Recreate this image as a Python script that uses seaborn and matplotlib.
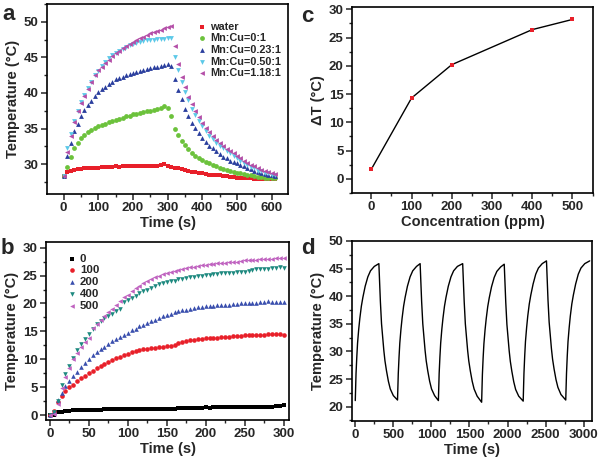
import numpy as np
import pandas as pd
import matplotlib
matplotlib.use("Agg")
import matplotlib.pyplot as plt
from matplotlib.ticker import MultipleLocator
import seaborn as sns

# ---- panel a: heating / cooling curves, sampled every 10 s
time_a = np.arange(0, 620, 10)
water = [28.3, 28.9, 29.1, 29.2, 29.3, 29.3, 29.4, 29.4, 29.5, 29.5, 29.5, 29.6, 29.6, 29.6, 29.6, 29.7,
         29.6, 29.7, 29.7, 29.7, 29.7, 29.8, 29.8, 29.7, 29.8, 29.8, 29.8, 29.8, 29.9, 30.0, 29.8, 29.6,
         29.5, 29.4, 29.3, 29.2, 29.0, 28.9, 28.9, 28.8, 28.7, 28.6, 28.5, 28.5, 28.4, 28.4, 28.3, 28.3,
         28.2, 28.2, 28.1, 28.1, 28.0, 28.0, 28.0, 27.9, 27.9, 27.9, 27.9, 27.9, 27.9, 27.9]
mn_0 = [28.3, 29.6, 31.0, 32.2, 33.0, 33.6, 34.1, 34.5, 34.8, 35.1, 35.3, 35.5, 35.7, 35.9, 36.1, 36.2,
        36.4, 36.5, 36.7, 36.8, 37.0, 37.1, 37.2, 37.3, 37.4, 37.5, 37.6, 37.8, 37.9, 38.1, 37.9, 36.7,
        35.0, 34.1, 33.3, 32.7, 32.1, 31.6, 31.2, 30.9, 30.6, 30.3, 30.1, 29.9, 29.7, 29.5, 29.3, 29.2,
        29.0, 28.9, 28.8, 28.7, 28.6, 28.5, 28.4, 28.3, 28.2, 28.2, 28.1, 28.1, 28.0, 28.0]
mn_023 = [28.3, 31.1, 33.0, 34.6, 35.7, 36.7, 37.6, 38.3, 38.9, 39.6, 40.1, 40.6, 40.9, 41.3, 41.6, 41.9,
          42.1, 42.3, 42.5, 42.7, 42.8, 43.0, 43.1, 43.2, 43.4, 43.5, 43.6, 43.7, 43.8, 43.9, 44.0, 43.8,
          41.9, 40.4, 39.1, 37.8, 36.8, 35.8, 35.1, 34.4, 33.7, 33.1, 32.6, 32.2, 31.8, 31.4, 31.0, 30.8,
          30.5, 30.3, 30.1, 29.9, 29.7, 29.5, 29.3, 29.1, 28.9, 28.8, 28.6, 28.5, 28.4, 28.3]
mn_050 = [28.3, 32.2, 34.3, 36.0, 37.5, 38.7, 39.7, 40.7, 41.6, 42.5, 43.1, 43.8, 44.4, 44.9, 45.3, 45.6,
          45.9, 46.2, 46.5, 46.7, 46.9, 47.0, 47.2, 47.3, 47.4, 47.4, 47.5, 47.6, 47.6, 47.6, 47.7, 47.7,
          45.1, 43.2, 41.5, 40.2, 39.0, 37.7, 36.9, 36.0, 35.3, 34.7, 34.0, 33.5, 33.0, 32.6, 32.2, 31.8,
          31.5, 31.1, 30.8, 30.5, 30.2, 29.9, 29.6, 29.4, 29.1, 29.0, 28.8, 28.7, 28.5, 28.4]
mn_118 = [28.3, 31.7, 34.0, 35.9, 37.4, 38.6, 39.6, 40.6, 41.6, 42.5, 43.2, 43.7, 44.2, 44.7, 45.2, 45.6,
          45.9, 46.3, 46.6, 46.9, 47.2, 47.4, 47.7, 47.9, 48.1, 48.4, 48.6, 48.7, 48.9, 49.1, 49.3, 49.4,
          46.6, 44.0, 42.3, 40.8, 39.5, 38.4, 37.4, 36.6, 35.8, 35.1, 34.5, 33.9, 33.4, 33.0, 32.5, 32.1,
          31.8, 31.5, 31.1, 30.8, 30.5, 30.2, 29.9, 29.7, 29.4, 29.2, 29.1, 28.9, 28.7, 28.6]
labels_a = ["water", "Mn:Cu=0:1", "Mn:Cu=0.23:1", "Mn:Cu=0.50:1", "Mn:Cu=1.18:1"]

# ---- panel b: concentration series, sampled every 5 s
time_b = np.arange(0, 305, 5)
c0 = [0.0, 0.1, 0.6, 0.6, 0.7, 0.8, 0.9, 0.9, 1.0, 1.0, 1.0, 0.9, 1.0, 1.0, 1.1, 1.1, 1.1, 1.1, 1.1, 1.1,
      1.1, 1.1, 1.1, 1.2, 1.2, 1.2, 1.2, 1.2, 1.2, 1.2, 1.2, 1.2, 1.2, 1.3, 1.3, 1.3, 1.3, 1.3, 1.3, 1.3,
      1.4, 1.3, 1.4, 1.4, 1.4, 1.5, 1.5, 1.5, 1.5, 1.5, 1.5, 1.5, 1.5, 1.5, 1.4, 1.4, 1.4, 1.4, 1.6, 1.7, 1.8]
c100 = [0.0, 0.8, 2.4, 3.5, 4.3, 5.0, 5.5, 6.1, 6.6, 7.1, 7.6, 8.0, 8.4, 8.8, 9.2, 9.5, 9.8, 10.2, 10.5,
        10.8, 11.0, 11.3, 11.5, 11.7, 11.8, 11.9, 12.0, 12.1, 12.2, 12.3, 12.4, 12.4, 12.5, 13.0, 13.1,
        13.2, 13.4, 13.5, 13.6, 13.7, 13.8, 13.8, 13.9, 13.9, 14.0, 14.0, 14.0, 14.1, 14.2, 14.2, 14.3,
        14.3, 14.3, 14.4, 14.4, 14.4, 14.5, 14.5, 14.5, 14.5, 14.3]
c200 = [0.0, 0.5, 2.8, 4.0, 5.2, 6.2, 7.0, 7.8, 8.6, 9.3, 10.0, 10.7, 11.3, 11.8, 12.3, 12.8, 13.2, 13.6,
        14.0, 14.4, 14.8, 15.2, 15.5, 15.9, 16.2, 16.5, 16.8, 17.1, 17.4, 17.7, 17.9, 18.2, 18.4, 18.6,
        18.8, 18.9, 19.1, 19.2, 19.3, 19.4, 19.5, 19.6, 19.6, 19.7, 19.7, 19.8, 19.8, 19.9, 19.9, 20.0,
        20.0, 20.0, 20.1, 20.1, 20.2, 20.3, 20.4, 20.3, 20.2, 20.2, 20.2]
c400 = [0.0, 0.5, 2.5, 5.5, 7.3, 8.9, 10.3, 11.6, 12.7, 13.7, 14.6, 15.5, 16.3, 16.9, 17.4, 17.8, 18.2,
        18.6, 19.0, 20.2, 20.6, 21.0, 21.4, 21.8, 22.2, 22.5, 22.8, 23.1, 23.4, 23.6, 23.8, 24.0, 24.1,
        24.3, 24.4, 24.6, 24.7, 24.8, 24.9, 25.0, 25.1, 25.1, 25.2, 25.3, 25.4, 25.4, 25.5, 25.5, 25.6,
        25.6, 25.7, 25.8, 26.0, 26.1, 26.1, 26.2, 26.2, 26.3, 26.4, 26.6, 26.4]
c500 = [0.0, 0.3, 2.0, 4.8, 6.9, 8.5, 10.0, 11.2, 12.2, 13.1, 13.9, 15.6, 16.4, 17.1, 17.8, 18.5, 19.1,
        19.8, 20.4, 21.1, 21.6, 22.2, 22.7, 23.2, 23.6, 24.0, 24.4, 24.7, 25.0, 25.2, 25.4, 25.6, 25.8,
        26.0, 26.2, 26.3, 26.5, 26.6, 26.7, 26.8, 26.9, 27.0, 27.1, 27.2, 27.3, 27.3, 27.4, 27.5, 27.5,
        27.6, 27.7, 27.7, 27.8, 27.8, 27.9, 27.9, 28.0, 28.0, 28.1, 28.2, 28.2]
labels_b = ["0", "100", "200", "400", "500"]

# ---- panel c: temperature rise vs concentration
conc = [0, 100, 200, 400, 500]
delta_t = [1.7, 14.3, 20.2, 26.4, 28.2]

# ---- panel d: six on/off cycles
cycle_time = [0, 10, 20, 30, 45, 60, 80, 100, 130, 165, 200, 250, 310,
              320, 330, 345, 360, 375, 390, 410, 435, 460, 500, 555,
              565, 575, 585, 600, 615, 635, 655, 685, 720, 755, 805, 852,
              862, 872, 887, 902, 917, 932, 952, 977, 1002, 1042, 1092,
              1102, 1112, 1122, 1137, 1152, 1172, 1192, 1222, 1257, 1292, 1342, 1411,
              1421, 1431, 1446, 1461, 1476, 1491, 1511, 1536, 1561, 1601, 1660,
              1670, 1680, 1690, 1705, 1720, 1740, 1760, 1790, 1825, 1860, 1910, 1957,
              1967, 1977, 1992, 2007, 2022, 2037, 2057, 2082, 2107, 2147, 2206,
              2216, 2226, 2236, 2251, 2266, 2286, 2306, 2336, 2371, 2406, 2456, 2512,
              2522, 2532, 2547, 2562, 2577, 2592, 2612, 2637, 2662, 2702, 2765,
              2775, 2785, 2795, 2810, 2825, 2845, 2865, 2895, 2930, 2965, 3015, 3080]
cycle_temp = [21.1, 26.0, 29.0, 31.5, 34.0, 36.0, 38.2, 39.8, 41.8, 43.5, 44.6, 45.4, 45.9,
              42.5, 39.0, 35.0, 32.5, 30.2, 28.3, 26.5, 24.6, 23.2, 22.0, 21.2,
              26.0, 29.0, 31.5, 34.0, 36.0, 38.2, 39.8, 41.8, 43.5, 44.6, 45.4, 45.9,
              42.5, 39.0, 35.0, 32.5, 30.2, 28.3, 26.5, 24.6, 23.2, 22.0, 21.1,
              26.0, 29.0, 31.5, 34.0, 36.0, 38.2, 39.8, 41.8, 43.5, 44.6, 45.4, 45.9,
              42.5, 39.0, 35.0, 32.5, 30.2, 28.3, 26.5, 24.6, 23.2, 21.9, 20.8,
              25.8, 28.9, 31.4, 33.9, 35.9, 38.1, 39.7, 41.7, 43.4, 44.5, 45.3, 45.8,
              42.4, 38.9, 34.9, 32.4, 30.1, 28.2, 26.4, 24.5, 23.1, 21.9, 21.0,
              26.0, 29.2, 31.8, 34.3, 36.4, 38.6, 40.2, 42.2, 44.0, 45.1, 45.9, 46.4,
              42.8, 39.3, 35.3, 32.8, 30.5, 28.6, 26.8, 24.9, 23.5, 22.2, 21.2,
              26.0, 29.2, 31.8, 34.3, 36.4, 38.6, 40.2, 42.2, 44.0, 45.1, 45.9, 46.4]

sns.set_style("ticks")
plt.rcParams["font.family"] = ["Liberation Sans", "DejaVu Sans"]
plt.rcParams["font.weight"] = "bold"
plt.rcParams["axes.labelweight"] = "bold"

fig = plt.figure(figsize=(6, 4.58), dpi=100)
W, H = 600, 458


def make_ax(l, r, t, b):
    return fig.add_axes([l / W, 1 - b / H, (r - l) / W, (b - t) / H])


def style(ax, xmin, ymin):
    for s in ax.spines.values():
        s.set_linewidth(1.2)
        s.set_color("black")
    ax.xaxis.set_minor_locator(MultipleLocator(xmin))
    ax.yaxis.set_minor_locator(MultipleLocator(ymin))
    ax.tick_params(which="major", direction="out", length=4, width=1.1, labelsize=9.5, pad=2)
    ax.tick_params(which="minor", direction="out", length=2.2, width=1.0)
    for lab in ax.get_xticklabels() + ax.get_yticklabels():
        lab.set_fontweight("bold")


ax_a = make_ax(47, 288, 4, 194)
ax_c = make_ax(352, 593, 7, 193)
ax_b = make_ax(46, 289, 242, 420)
ax_d = make_ax(352, 592, 241, 421)

# panel a
cols_a = ["#e8202a", "#6cc23c", "#2b3f9e", "#5cc9e8", "#b44fa8"]
marks_a = ["s", "o", "^", "v", "<"]
for ys, c, m, lab in zip([water, mn_0, mn_023, mn_050, mn_118], cols_a, marks_a, labels_a):
    sns.scatterplot(x=time_a, y=ys, marker=m, color=c, s=12, linewidth=0, ax=ax_a, label=lab)
ax_a.set_xlim(-48, 647)
ax_a.set_ylim(25.8, 52.5)
ax_a.set_xticks([0, 100, 200, 300, 400, 500, 600])
ax_a.set_yticks([30, 35, 40, 45, 50])
ax_a.set_xlabel("Time (s)", fontsize=10.5, labelpad=1)
ax_a.set_ylabel("Temperature (°C)", fontsize=10.5, labelpad=3)
ax_a.legend(loc="upper left", bbox_to_anchor=(0.6, 0.93), frameon=False,
            handletextpad=0.1, labelspacing=0.15, borderaxespad=0, handlelength=1.2,
            prop={"weight": "bold", "size": 7.8})
style(ax_a, 50, 2.5)

# panel b
cols_b = ["black", "#e8202a", "#3a4fae", "#1f8a80", "#c063c0"]
marks_b = ["s", "o", "^", "v", "<"]
for ys, c, m, lab in zip([c0, c100, c200, c400, c500], cols_b, marks_b, labels_b):
    sns.scatterplot(x=time_b, y=ys, marker=m, color=c, s=11, linewidth=0, ax=ax_b, label=lab)
ax_b.set_xlim(-5, 307)
ax_b.set_ylim(-0.85, 31)
ax_b.set_xticks([0, 50, 100, 150, 200, 250, 300])
ax_b.set_yticks([0, 5, 10, 15, 20, 25, 30])
ax_b.set_xlabel("Time (s)", fontsize=10.5, labelpad=1)
ax_b.set_ylabel("Temperature (°C)", fontsize=10.5, labelpad=3)
ax_b.legend(loc="upper left", bbox_to_anchor=(0.06, 0.96), frameon=False,
            handletextpad=0.1, labelspacing=0.15, borderaxespad=0, handlelength=1.2,
            prop={"weight": "bold", "size": 8.2})
style(ax_b, 25, 2.5)

# panel c
df_c = pd.DataFrame({"conc": conc, "dT": delta_t})
sns.lineplot(data=df_c, x="conc", y="dT", color="black", lw=1.0, ax=ax_c)
sns.scatterplot(data=df_c, x="conc", y="dT", marker="s", color="#e8202a", s=9,
                linewidth=0, ax=ax_c, zorder=3)
ax_c.set_xlim(-48, 551)
ax_c.set_ylim(-2.5, 30.4)
ax_c.set_xticks([0, 100, 200, 300, 400, 500])
ax_c.set_yticks([0, 5, 10, 15, 20, 25, 30])
ax_c.set_xlabel("Concentration (ppm)", fontsize=10.5, labelpad=1)
ax_c.set_ylabel("ΔT (°C)", fontsize=10.5, labelpad=3)
style(ax_c, 50, 2.5)

# panel d
df_d = pd.DataFrame({"t": cycle_time, "T": cycle_temp})
sns.lineplot(data=df_d, x="t", y="T", color="black", lw=1.0, ax=ax_d, sort=False)
ax_d.set_xlim(-43, 3110)
ax_d.set_ylim(17.4, 50)
ax_d.set_xticks([0, 500, 1000, 1500, 2000, 2500, 3000])
ax_d.set_yticks([20, 25, 30, 35, 40, 45, 50])
ax_d.set_xlabel("Time (s)", fontsize=10.5, labelpad=1)
ax_d.set_ylabel("Temperature (°C)", fontsize=10.5, labelpad=3)
style(ax_d, 250, 2.5)

# panel letters
for txt, x, y in [("a", 2, 4), ("c", 301, 6), ("b", 1, 238), ("d", 301, 238)]:
    fig.text(x / W, 1 - y / H, txt, fontsize=16, fontweight="bold", va="top", ha="left")

fig.savefig("out.png", dpi=100)
